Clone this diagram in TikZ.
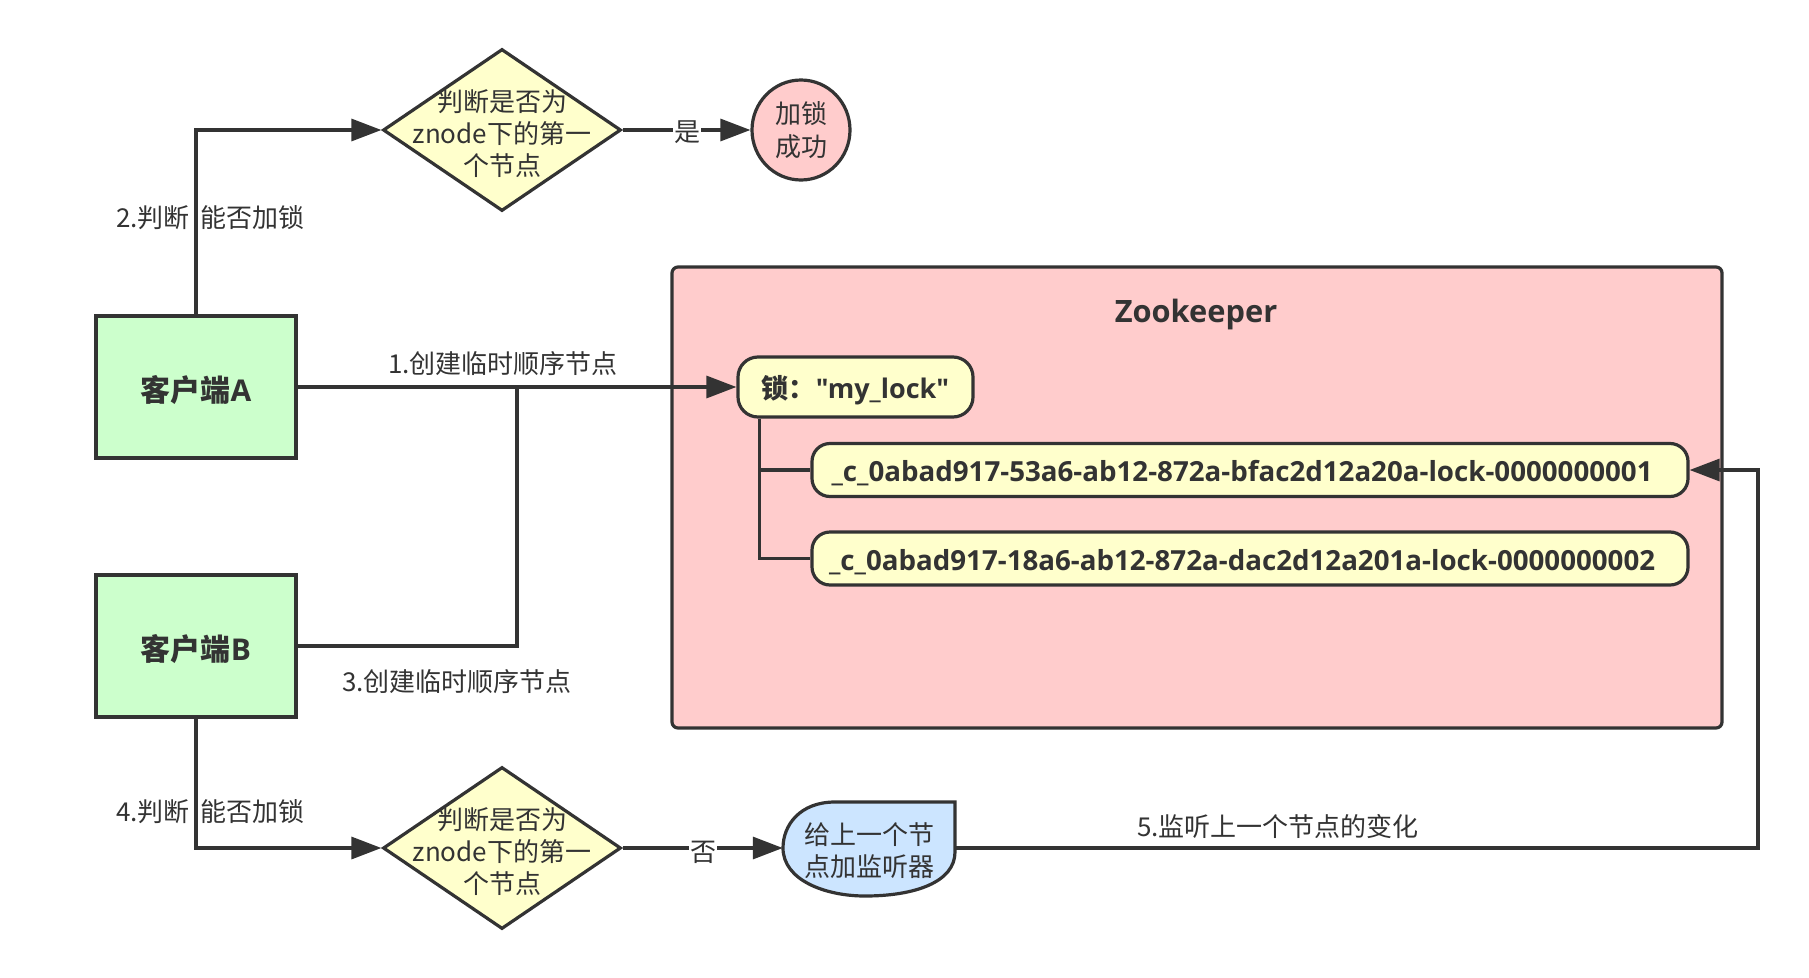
\documentclass[tikz,border=0pt]{standalone}
\usepackage{fontspec}
\setmainfont{Noto Sans CJK SC}
\newfontfamily\lat{Open Sans}
\usetikzlibrary{arrows.meta,shapes.geometric}
\definecolor{ln}{HTML}{333333}
\definecolor{gfill}{HTML}{CCFFCC}
\definecolor{yfill}{HTML}{FFFFCC}
\definecolor{pfill}{HTML}{FFCCCC}
\definecolor{bfill}{HTML}{CCE5FF}
\newcommand{\lowr}[1]{\raisebox{-3.5pt}[\height][\depth]{#1}}
\tikzset{
  conn/.style={draw=ln, line width=3.2pt},
  arr/.style={-{Triangle[length=30pt,width=22pt]}},
  cbox/.style={rectangle, draw=ln, line width=3.2pt, fill=gfill, minimum width=200pt, minimum height=142pt, text=ln, font=\fontsize{30}{34}\selectfont\bfseries},
  dia/.style={diamond, draw=ln, line width=3.2pt, fill=yfill, minimum width=238pt, minimum height=162pt, inner sep=0pt},
  dtext/.style={align=center, text=ln, font=\fontsize{26}{32}\selectfont, inner sep=0pt},
  lab/.style={text=ln, font=\fontsize{26}{32}\selectfont, inner sep=1pt},
  zkbox/.style={rectangle, draw=ln, line width=3.2pt, fill=pfill, rounded corners=6pt, minimum width=1050pt, minimum height=461pt},
  pill/.style={rectangle, draw=ln, line width=3.2pt, fill=yfill, rounded corners=20pt, text=ln, font=\fontsize{27}{32}\selectfont\bfseries, inner sep=0pt},
}
\begin{document}
\begin{tikzpicture}[x=1pt,y=-1pt]
\useasboundingbox (0,0) rectangle (1809,977);
% clients
\node[cbox] (A) at (196,387) {\lowr{客户端\lat A}};
\node[cbox] (B) at (196,646) {\lowr{客户端\lat B}};
% diamonds
\node[dia] (d1) at (502,130) {};
\node[dtext] (d1t) at (502,134) {判断是否为\\znode下的第一\\个节点};
\node[dia] (d2) at (502,848) {};
\node[dtext] (d2t) at (502,852) {判断是否为\\znode下的第一\\个节点};
% success circle
\node[ellipse, draw=ln, line width=3.2pt, fill=pfill, minimum width=98pt, minimum height=100pt, inner sep=0pt, align=center, text=ln, font=\fontsize{26}{33}\selectfont] (ok) at (801,130) {加锁\\成功};
% zookeeper
\node[zkbox] (zk) at (1197,497.5) {};
\node[text=ln, font=\lat\fontsize{30.8}{34}\selectfont\bfseries] (zkt) at (1196,314) {Zookeeper};
\node[pill, minimum width=235pt, minimum height=60pt] (lock) at (855.5,387) {\lowr{锁：{\lat"my\_lock"}}};
\node[pill, rounded corners=18pt, minimum width=876pt, minimum height=53pt, font=\lat\fontsize{27.7}{32}\selectfont\bfseries] (c1) at (1250,470) {\lowr{\_c\_0abad917-53a6-ab12-872a-bfac2d12a20a-lock-0000000001}\kern16pt};
\node[pill, rounded corners=18pt, minimum width=876pt, minimum height=53pt, font=\lat\fontsize{27.7}{32}\selectfont\bfseries] (c2) at (1250,558.5) {\lowr{\_c\_0abad917-18a6-ab12-872a-dac2d12a201a-lock-0000000002}\kern16pt};
\coordinate (tr) at ([xshift=23pt]lock.south west);
\draw[conn] (tr) |- (c2.west);
\draw[conn] (tr |- c1.west) -- (c1.west);
% listener shape
\node[minimum width=172pt, minimum height=94pt, inner sep=0pt] (bl) at (869,848) {};
\draw[draw=ln, line width=3.2pt, fill=bfill] (955,802) -- (835,802) .. controls (800,802) and (783,825) .. (783,848) .. controls (783,880) and (825,896) .. (865,896) .. controls (915,896) and (955,882) .. (955,852) -- cycle;
\node[dtext] (blt) at (869,851) {给上一个节\\点加监听器};
% connectors
\coordinate (j) at (517,387);
\draw[conn,arr] (A.east) -- (lock.west);
\draw[conn] (B.east) -| (j);
\draw[conn,arr] (A.north) |- (d1.west);
\draw[conn,arr] (B.south) |- (d2.west);
\draw[conn,arr] (d1.east) -- (ok.west);
\draw[conn,arr] (d2.east) -- (bl.west);
\coordinate (r) at (1758,470);
\draw[conn,arr] (bl.east) -| (r) -- (c1.east);
% labels
\node[lab] (l1) at (503,364) {1.创建临时顺序节点};
\node[lab, anchor=east] (l2a) at (191,218) {2.判断};
\node[lab, anchor=west] (l2b) at (199,218) {能否加锁};
\node[lab] (l3) at (457,682) {3.创建临时顺序节点};
\node[lab, anchor=east] (l4a) at (191,812) {4.判断};
\node[lab, anchor=west] (l4b) at (199,812) {能否加锁};
\node[lab] (l5) at (1278,827) {5.监听上一个节点的变化};
\node[lab, fill=white] (yes) at (687,132) {是};
\node[lab, fill=white] (no) at (703,852) {否};
\end{tikzpicture}
\end{document}
